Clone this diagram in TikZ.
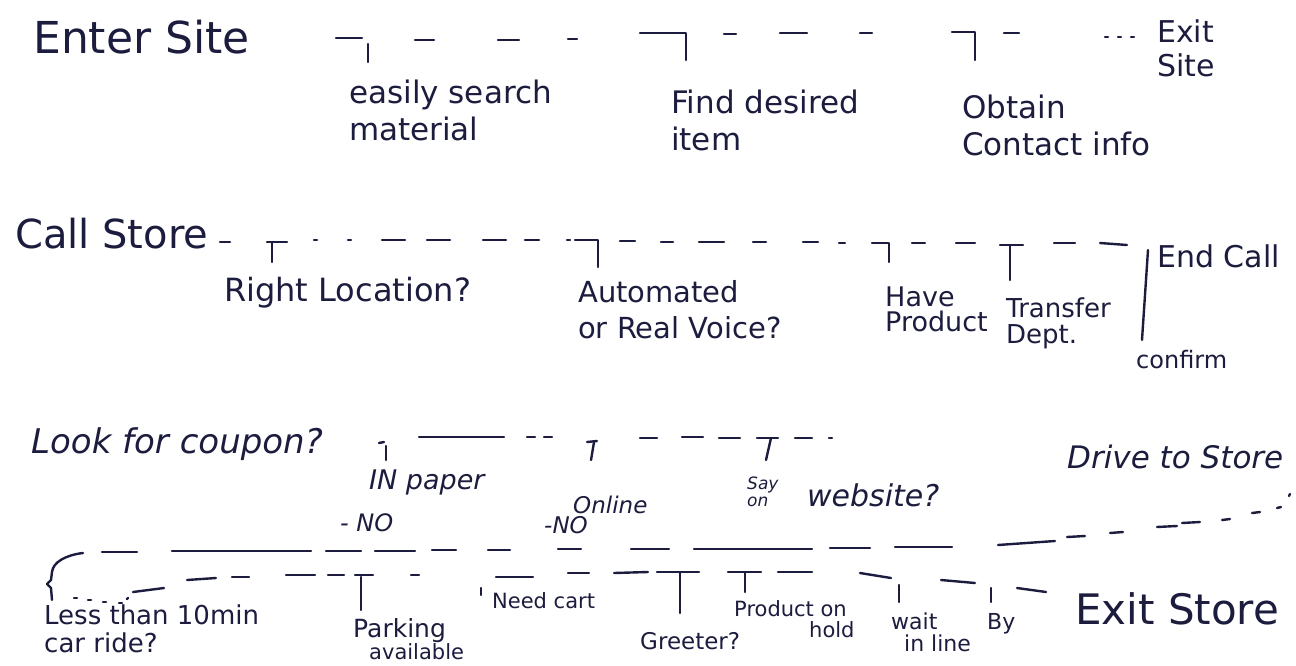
\documentclass[tikz,border=0pt]{standalone}
\usepackage{fontspec}
\setmainfont{DejaVu Sans}
\definecolor{inkc}{RGB}{28,28,62}
\newcommand\fsz[2]{\fontsize{#1}{#2}\selectfont}
\begin{document}
\begin{tikzpicture}[x=1pt,y=-1pt,
  inkline/.style={draw=inkc,line width=2.4pt,line cap=round,line join=round},
  inktext/.style={text=inkc,inner sep=0pt,anchor=north west,align=left}]
\useasboundingbox (0,0) rectangle (1296,665);
\fill[white] (0,0) rectangle (1296,665);

% ---------- visit the web site ----------
\node[inktext,font=\fsz{44}{48}] (enter) at (33,20) {Enter Site};
\node[inktext,font=\fsz{30}{34}] (exitsite) at (1157,20) {Exit\\Site};
\node[inktext,font=\fsz{31}{37}] (search) at (349,80) {easily search\\material};
\node[inktext,font=\fsz{31}{37}] (find) at (671,90) {Find desired\\item};
\node[inktext,font=\fsz{31}{37}] (contact) at (962,95) {Obtain\\Contact info};

\draw[inkline] (336,38) -- (362,38);
\draw[inkline] (368,44) -- (368,62);
\draw[inkline] (640,33) -- (686,33) -- (686,60);
\draw[inkline] (952,32) -- (975,32) -- (975,60);
\foreach \a/\b/\y in {415/434/40, 498/519/40, 568/577/39, 724/736/34,
    780/807/33, 860/872/33, 1004/1019/33, 1105/1108/37, 1118/1121/37, 1131/1134/37}
  \draw[inkline] (\a,\y) -- (\b,\y);

% ---------- phone call ----------
\node[inktext,font=\fsz{40}{44}] (call) at (15,218) {Call Store};
\node[inktext,font=\fsz{32}{36}] (loc) at (224,277) {Right Location?};
\node[inktext,font=\fsz{29}{36}] (voice) at (578,280) {Automated\\or Real Voice?};
\node[inktext,font=\fsz{27}{25}] (have) at (885,287) {Have\\Product};
\node[inktext,font=\fsz{26}{26}] (transfer) at (1006,298) {Transfer\\Dept.};
\node[inktext,font=\fsz{30}{34}] (endcall) at (1157,245) {End Call};
\node[inktext,font=\fsz{24}{28}] (confirm) at (1136,350) {confirm};

\draw[inkline] (267,242) -- (287,242);
\draw[inkline] (272,242) -- (272,262);
\draw[inkline] (575,240) -- (598,240) -- (598,267);
\draw[inkline] (872,243) -- (889,243) -- (889,262);
\draw[inkline] (1000,245) -- (1023,245);
\draw[inkline] (1010,245) -- (1010,280);
\draw[inkline] (1100,243) -- (1127,245);
\draw[inkline] (1148,250) -- (1142,340);
\foreach \a/\b/\y in {220/230/242, 314/317/240, 348/351/240, 382/405/240,
    427/450/240, 483/506/240, 525/539/240, 567/570/240, 620/635/241,
    661/673/242, 699/724/242, 753/766/242, 803/818/242, 839/845/243,
    912/925/243, 956/975/243, 1054/1075/243}
  \draw[inkline] (\a,\y) -- (\b,\y);

% ---------- coupon search ----------
\node[inktext,font=\fsz{34}{38}\itshape] (coupon) at (31,427) {Look for coupon?};
\node[inktext,font=\fsz{27}{30}\itshape] (paper) at (369,470) {IN paper};
\node[inktext,font=\fsz{24}{28}\itshape] (paperno) at (340,513) {- NO};
\node[inktext,font=\fsz{23}{26}\itshape] (online) at (573,496) {Online};
\node[inktext,font=\fsz{23}{26}\itshape] (onlineno) at (544,516) {-NO};
\node[inktext,font=\fsz{17}{17}\itshape] (say) at (747,477) {Say\\on};
\node[inktext,font=\fsz{30}{34}\itshape] (website) at (807,483) {website?};
\node[inktext,font=\fsz{31}{35}\itshape] (drive) at (1067,445) {Drive to Store};

\draw[inkline] (379,443) -- (384,442);
\draw[inkline] (386,446) -- (386,460);
\draw[inkline] (419,437) -- (504,437);
\draw[inkline] (587,442) -- (597,441);
\draw[inkline] (594,442) -- (591,460);
\draw[inkline] (757,438) -- (778,438);
\draw[inkline] (771,438) -- (766,460);
\foreach \a/\b/\y in {527/535/437, 544/552/437, 640/657/438, 682/703/437,
    719/740/438, 795/812/438, 829/832/438}
  \draw[inkline] (\a,\y) -- (\b,\y);

% ---------- trip to the store ----------
\node[inktext,font=\fsz{26}{28}] (ten) at (44,605) {Less than 10min\\car ride?};
\node[inktext,font=\fsz{25}{30}] (parking) at (353,618) {Parking};
\node[inktext,font=\fsz{21}{26}] (avail) at (369,643) {available};
\node[inktext,font=\fsz{21}{24}] (cart) at (492,592) {Need cart};
\node[inktext,font=\fsz{23}{26}] (greeter) at (640,632) {Greeter?};
\node[inktext,font=\fsz{21}{21}] (hold) at (734,600) {Product on\\\hspace*{75pt}hold};
\node[inktext,font=\fsz{22}{22}] (wait) at (891,613) {wait\\\hspace*{13pt}in line};
\node[inktext,font=\fsz{22}{24}] (by) at (987,613) {By};
\node[inktext,font=\fsz{42}{46}] (exitstore) at (1075,592) {Exit Store};

% outward leg, right to left, turning down into a brace
\foreach \a/\ya/\b/\yb in {102/552/137/552, 172/551/311/551, 326/551/361/551,
    375/551/415/551, 432/550/456/550, 488/550/510/550, 558/549/581/549,
    631/549/669/549, 694/549/812/549, 830/548/870/548, 895/547/952/547,
    998/545/1055/541, 1067/537/1085/536, 1110/533/1123/532, 1157/527/1177/526,
    1182/523/1200/522, 1222/520/1230/519, 1252/513/1260/512, 1277/508/1281/507,
    1289/496/1290/494}
  \draw[inkline] (\a,\ya) -- (\b,\yb);
\draw[inkline] (83,553) .. controls (66,555) and (53,562) .. (52,572)
  -- (51,580) -- (47,584) -- (51,588) -- (52,600);

% return leg towards the exit
\foreach \a/\ya/\b/\yb in {74/598/77/598, 88/600/91/600, 103/602/106/602,
    119/603/122/603, 127/599/128/598, 133/592/164/588, 187/580/216/578,
    232/577/249/577, 286/575/315/575, 328/575/344/575, 411/575/419/575,
    496/577/533/577, 568/573/589/573, 614/573/648/572, 778/572/812/572,
    860/573/891/578, 941/580/975/583, 1017/588/1046/592}
  \draw[inkline] (\a,\ya) -- (\b,\yb);
\draw[inkline] (355,575) -- (373,575);
\draw[inkline] (361,577) -- (361,610);
\draw[inkline] (481,588) -- (481,595);
\draw[inkline] (657,572) -- (699,572);
\draw[inkline] (680,573) -- (680,613);
\draw[inkline] (728,572) -- (761,572);
\draw[inkline] (745,573) -- (745,592);
\draw[inkline] (899,585) -- (899,602);
\draw[inkline] (991,588) -- (991,602);
\end{tikzpicture}
\end{document}
